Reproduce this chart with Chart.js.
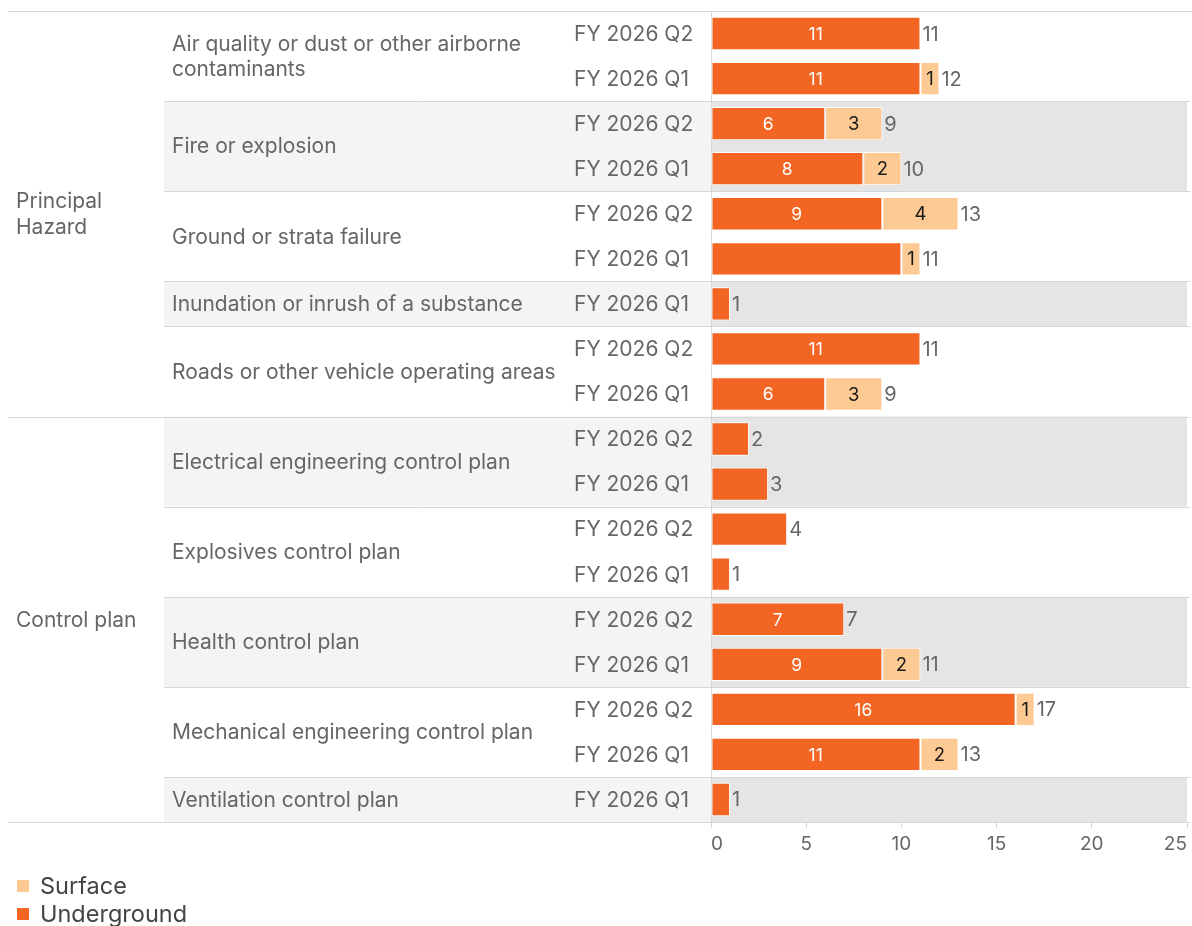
<!DOCTYPE html>
<html>
<head>
<meta charset="utf-8">
<script src="https://cdn.jsdelivr.net/npm/chart.js@4/dist/chart.umd.min.js"></script>
<style>
  html, body { margin: 0; padding: 0; background: #ffffff; }
  #wrap { width: 1192px; height: 926px; }
</style>
</head>
<body>
<div id="wrap"><canvas id="chart" width="1192" height="926"></canvas></div>
<script>
// Incidents by hazard / control plan, per quarter, split by mine type
const rowGroup = [
  'Principal Hazard', 'Principal Hazard', 'Principal Hazard', 'Principal Hazard', 'Principal Hazard',
  'Principal Hazard', 'Principal Hazard', 'Principal Hazard', 'Principal Hazard',
  'Control plan', 'Control plan', 'Control plan', 'Control plan', 'Control plan',
  'Control plan', 'Control plan', 'Control plan', 'Control plan'
];
const rowCategory = [
  'Air quality or dust or other airborne contaminants', 'Air quality or dust or other airborne contaminants',
  'Fire or explosion', 'Fire or explosion',
  'Ground or strata failure', 'Ground or strata failure',
  'Inundation or inrush of a substance',
  'Roads or other vehicle operating areas', 'Roads or other vehicle operating areas',
  'Electrical engineering control plan', 'Electrical engineering control plan',
  'Explosives control plan', 'Explosives control plan',
  'Health control plan', 'Health control plan',
  'Mechanical engineering control plan', 'Mechanical engineering control plan',
  'Ventilation control plan'
];
const rowQuarter = [
  'FY 2026 Q2', 'FY 2026 Q1', 'FY 2026 Q2', 'FY 2026 Q1', 'FY 2026 Q2', 'FY 2026 Q1',
  'FY 2026 Q1', 'FY 2026 Q2', 'FY 2026 Q1',
  'FY 2026 Q2', 'FY 2026 Q1', 'FY 2026 Q2', 'FY 2026 Q1', 'FY 2026 Q2', 'FY 2026 Q1',
  'FY 2026 Q2', 'FY 2026 Q1', 'FY 2026 Q1'
];
const underground = [11, 11, 6, 8, 9, 10, 1, 11, 6, 2, 3, 4, 1, 7, 9, 16, 11, 1];
const surface     = [0, 1, 3, 2, 4, 1, 0, 0, 3, 0, 0, 0, 0, 0, 2, 1, 2, 0];
// which underground segments carry their own value label
const undergroundLabelShown = [true, true, true, true, true, false, false, true, true,
  false, false, false, false, true, true, true, true, false];
const xTicks = [0, 5, 10, 15, 20, 25];
const seriesNames = ['Surface', 'Underground'];

const FONT = 'Inter, Roboto, sans-serif';
const COL_UNDER = '#f26522';
const COL_SURF = '#fdca94';
const TEXT_GREY = '#666666';
const LINE_GREY = '#d6d6d6';
const TEXT_DY = 1;

function wrapText(ctx, text, maxW) {
  const words = text.split(' ');
  const lines = [];
  let cur = '';
  for (const w of words) {
    const t = cur ? cur + ' ' + w : w;
    if (ctx.measureText(t).width > maxW && cur) { lines.push(cur); cur = w; }
    else cur = t;
  }
  if (cur) lines.push(cur);
  return lines;
}

function runs(arr) {
  const out = [];
  let start = 0;
  for (let i = 1; i <= arr.length; i++) {
    if (i === arr.length || arr[i] !== arr[start]) {
      out.push({ name: arr[start], from: start, to: i - 1 });
      start = i;
    }
  }
  return out;
}

const tablePlugin = {
  id: 'rowHeaders',
  beforeDatasetsDraw(chart) {
    const { ctx, chartArea, scales } = chart;
    const y = scales.y;
    const rowH = y.getPixelForValue(1) - y.getPixelForValue(0);
    const top = (i) => y.getPixelForValue(i) - rowH / 2;
    const bot = (i) => y.getPixelForValue(i) + rowH / 2;
    const labelLeft = 164;
    const groupLeft = 8;
    const right = 1190;

    ctx.save();
    // sub-category bands
    const bands = runs(rowCategory);
    bands.forEach((b, k) => {
      if (k % 2 === 1) {
        const t = top(b.from), h = bot(b.to) - t;
        ctx.fillStyle = '#f4f4f4';
        ctx.fillRect(labelLeft, t, chartArea.left - labelLeft, h);
        ctx.fillStyle = '#e5e5e5';
        ctx.fillRect(chartArea.left, t, chartArea.right - chartArea.left, h);
      }
    });

    // separators
    ctx.strokeStyle = LINE_GREY;
    ctx.lineWidth = 1;
    const hline = (x0, x1, yy) => {
      const py = Math.round(yy) + 0.5;
      ctx.beginPath(); ctx.moveTo(x0, py); ctx.lineTo(x1, py); ctx.stroke();
    };
    const groups = runs(rowGroup);
    bands.forEach((b) => { hline(labelLeft, right, top(b.from)); });
    groups.forEach((g) => { hline(groupLeft, right, top(g.from)); });
    hline(groupLeft, 1192, top(0));
    hline(groupLeft, right, bot(rowGroup.length - 1));

    // axis line at zero
    const x0 = Math.round(chartArea.left) + 0.5;
    ctx.beginPath(); ctx.moveTo(x0, top(0)); ctx.lineTo(x0, bot(rowGroup.length - 1) + 6); ctx.stroke();

    // row header text
    ctx.fillStyle = TEXT_GREY;
    ctx.font = '21px ' + FONT;
    ctx.textBaseline = 'middle';
    ctx.textAlign = 'left';

    groups.forEach((g) => {
      const lines = wrapText(ctx, g.name, 140);
      const cy = (top(g.from) + bot(g.to)) / 2 + TEXT_DY;
      lines.forEach((ln, i) => {
        ctx.fillText(ln, 16, cy + (i - (lines.length - 1) / 2) * 26);
      });
    });

    bands.forEach((b) => {
      const lines = wrapText(ctx, b.name, 392);
      const cy = (top(b.from) + bot(b.to)) / 2 + TEXT_DY;
      lines.forEach((ln, i) => {
        ctx.fillText(ln, 172, cy + (i - (lines.length - 1) / 2) * 25);
      });
    });

    rowQuarter.forEach((q, i) => {
      ctx.fillText(q, 574, y.getPixelForValue(i) + TEXT_DY);
    });

    // legend
    const legY = [886, 914];
    const legCol = [COL_SURF, COL_UNDER];
    ctx.font = '23.5px ' + FONT;
    seriesNames.forEach((n, i) => {
      ctx.fillStyle = legCol[i];
      ctx.fillRect(17, legY[i] - 6, 12, 12);
      ctx.fillStyle = '#444444';
      ctx.fillText(n, 40, legY[i] + TEXT_DY);
    });
    ctx.restore();
  },
  afterDatasetsDraw(chart) {
    const { ctx, scales } = chart;
    const x = scales.x;
    const metaU = chart.getDatasetMeta(0);
    ctx.save();
    ctx.textBaseline = 'middle';
    underground.forEach((u, i) => {
      const s = surface[i];
      const cy = metaU.data[i].y + TEXT_DY;
      if (undergroundLabelShown[i]) {
        ctx.font = '17.5px ' + FONT;
        ctx.fillStyle = '#ffffff';
        ctx.textAlign = 'center';
        ctx.fillText(String(u), (x.getPixelForValue(0) + x.getPixelForValue(u)) / 2, cy);
      }
      if (s > 0) {
        ctx.font = '18.5px ' + FONT;
        ctx.fillStyle = '#1a1a1a';
        ctx.textAlign = 'center';
        ctx.fillText(String(s), (x.getPixelForValue(u) + x.getPixelForValue(u + s)) / 2, cy);
      }
      ctx.font = '20px ' + FONT;
      ctx.fillStyle = TEXT_GREY;
      ctx.textAlign = 'left';
      ctx.fillText(String(u + s), x.getPixelForValue(u + s) + 2, cy);
    });
    ctx.restore();
  }
};

const barCommon = {
  borderColor: '#ffffff',
  borderWidth: 1,
  borderSkipped: false,
  barPercentage: 0.74,
  categoryPercentage: 1
};

new Chart(document.getElementById('chart'), {
  type: 'bar',
  data: {
    labels: rowQuarter,
    datasets: [
      Object.assign({ label: 'Underground', data: underground, backgroundColor: COL_UNDER }, barCommon),
      Object.assign({ label: 'Surface', data: surface.map(v => v > 0 ? v : null), backgroundColor: COL_SURF }, barCommon)
    ]
  },
  options: {
    indexAxis: 'y',
    responsive: false,
    animation: false,
    layout: { padding: { left: 711, right: 3, top: 11, bottom: 64 } },
    plugins: { legend: { display: false }, tooltip: { enabled: false } },
    scales: {
      x: {
        stacked: true,
        min: 0,
        max: 25,
        afterBuildTicks(s) { s.ticks = xTicks.map(v => ({ value: v })); },
        ticks: { align: 'inner', color: TEXT_GREY, font: { family: FONT, size: 19 }, padding: 5, maxRotation: 0 },
        grid: { drawOnChartArea: false, drawTicks: true, tickLength: 6, color: LINE_GREY },
        border: { display: false },
        afterFit(s) { s.height = 40; }
      },
      y: { stacked: true, display: false }
    }
  },
  plugins: [tablePlugin]
});
</script>
</body>
</html>
